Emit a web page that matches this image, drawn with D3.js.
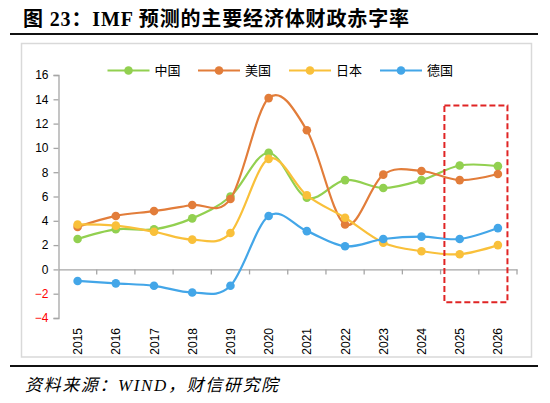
<!DOCTYPE html>
<html>
<head>
<meta charset="utf-8">
<script src="https://cdn.jsdelivr.net/npm/d3@7.9.0/dist/d3.min.js"></script>
<style>
  body { margin: 0; background: #fff; }
  svg { display: block; }
</style>
</head>
<body>
<svg id="chart" width="550" height="403"></svg>
<script>
// Data (IMF fiscal deficit, % of GDP)
const years = ['2015', '2016', '2017', '2018', '2019', '2020', '2021', '2022', '2023', '2024', '2025', '2026'];
const china   = [2.5, 3.3, 3.3, 4.2, 6.0, 9.6, 5.9, 7.35, 6.7, 7.35, 8.55, 8.5];
const usa     = [3.5, 4.4, 4.8, 5.3, 5.8, 14.1, 11.45, 3.7, 7.8, 8.1, 7.35, 7.85];
const japan   = [3.7, 3.6, 3.1, 2.45, 3.0, 9.1, 6.1, 4.25, 2.2, 1.5, 1.25, 2.0];
const germany = [-0.95, -1.15, -1.35, -1.9, -1.35, 4.4, 3.15, 1.9, 2.5, 2.7, 2.5, 3.4];
const yTicks  = [-4, -2, 0, 2, 4, 6, 8, 10, 12, 14, 16];

const series = [
  { name: '中国', values: china,   color: '#92d050' },
  { name: '美国', values: usa,     color: '#e27d3a' },
  { name: '日本', values: japan,   color: '#f9c03a' },
  { name: '德国', values: germany, color: '#43a6e8' }
];

const svg = d3.select('#chart');
const serif = '"Liberation Serif", "Times New Roman", "Noto Sans CJK SC", serif';
const sans = '"Liberation Sans", Arial, "Noto Sans CJK SC", sans-serif';

// Title + rules
svg.append('text')
  .attr('x', 23).attr('y', 26)
  .attr('font-family', serif)
  .attr('font-weight', 'bold')
  .attr('font-size', 20)
  .attr('fill', '#000')
  .attr('textLength', 386)
  .attr('lengthAdjust', 'spacing')
  .text('图 23：IMF 预测的主要经济体财政赤字率');

svg.append('line')
  .attr('x1', 10).attr('x2', 538).attr('y1', 34).attr('y2', 34)
  .attr('stroke', '#111').attr('stroke-width', 2);

// chart frame
svg.append('rect')
  .attr('x', 21.5).attr('y', 43.5).attr('width', 510).attr('height', 313.5)
  .attr('fill', '#fff').attr('stroke', '#d9d9d9').attr('stroke-width', 1.5);

svg.append('line')
  .attr('x1', 10).attr('x2', 538).attr('y1', 366).attr('y2', 366)
  .attr('stroke', '#111').attr('stroke-width', 2);

svg.append('text')
  .attr('x', 25).attr('y', 391)
  .attr('font-family', serif)
  .attr('font-style', 'italic')
  .attr('font-size', 17)
  .attr('fill', '#000')
  .attr('textLength', 253)
  .attr('lengthAdjust', 'spacing')
  .text('资料来源：WIND，财信研究院');

// Scales
const x = d3.scaleBand().domain(years).range([58.5, 517]);
const cx = (d) => x(d) + x.bandwidth() / 2;
const y = d3.scaleLinear().domain([-4, 16]).range([318, 75]);

// Y axis
const yAxis = svg.append('g')
  .attr('transform', 'translate(58.5,0)')
  .call(d3.axisLeft(y).tickValues(yTicks).tickSize(5).tickPadding(5));
yAxis.select('.domain').attr('stroke', '#a6a6a6').attr('stroke-width', 1.3);
yAxis.selectAll('.tick line').attr('stroke', '#a6a6a6').attr('stroke-width', 1.3);
yAxis.selectAll('.tick text')
  .attr('font-family', sans)
  .attr('font-size', 12)
  .attr('fill', (d) => d < 0 ? '#ff0000' : '#000');

// X axis at zero
const xAxis = svg.append('g')
  .attr('transform', `translate(0,${y(0)})`)
  .call(d3.axisBottom(x).tickSize(0).tickSizeOuter(0).tickFormat(''));
xAxis.select('.domain').attr('stroke', '#a6a6a6').attr('stroke-width', 1.3);
xAxis.selectAll('.tick').remove();

// tick marks at band boundaries
svg.append('g')
  .selectAll('line')
  .data(years.slice(1).concat(['end']))
  .join('line')
  .attr('x1', (d, i) => i < years.length - 1 ? x(d) : x.range()[1])
  .attr('x2', (d, i) => i < years.length - 1 ? x(d) : x.range()[1])
  .attr('y1', y(0)).attr('y2', y(0) + 5)
  .attr('stroke', '#a6a6a6').attr('stroke-width', 1.3);

// rotated year labels below plot
svg.append('g')
  .selectAll('text')
  .data(years)
  .join('text')
  .attr('transform', (d) => `translate(${cx(d) + 4.5},328) rotate(-90)`)
  .attr('text-anchor', 'end')
  .attr('font-family', sans)
  .attr('font-size', 12)
  .attr('fill', '#000')
  .text((d) => d);

// Lines
const line = d3.line()
  .x((d, i) => cx(years[i]))
  .y((d) => y(d))
  .curve(d3.curveCatmullRom.alpha(0));

series.forEach((s) => {
  svg.append('path')
    .datum(s.values)
    .attr('d', line)
    .attr('fill', 'none')
    .attr('stroke', s.color)
    .attr('stroke-width', 2.2);

  svg.append('g')
    .selectAll('circle')
    .data(s.values)
    .join('circle')
    .attr('cx', (d, i) => cx(years[i]))
    .attr('cy', (d) => y(d))
    .attr('r', 4.3)
    .attr('fill', s.color);
});

// Red dashed box around forecast years
const boxL = cx('2025') - x.step() * 0.4;
const boxR = cx('2026') + x.step() * 0.25;
svg.append('rect')
  .attr('x', boxL).attr('y', y(13.5))
  .attr('width', boxR - boxL).attr('height', y(-2.7) - y(13.5))
  .attr('fill', 'none')
  .attr('stroke', '#e02424')
  .attr('stroke-width', 2)
  .attr('stroke-dasharray', '6,3');

// Legend
const legendX = [107.5, 198, 289, 380];
const legend = svg.append('g')
  .selectAll('g')
  .data(series)
  .join('g')
  .attr('transform', (d, i) => `translate(${legendX[i]},70.5)`);
legend.append('line')
  .attr('x1', 0).attr('x2', 42)
  .attr('stroke', (d) => d.color).attr('stroke-width', 2.2);
legend.append('circle')
  .attr('cx', 21).attr('r', 4.3)
  .attr('fill', (d) => d.color);
legend.append('text')
  .attr('x', 47).attr('y', 4.5)
  .attr('font-family', sans)
  .attr('font-size', 13)
  .attr('fill', '#000')
  .text((d) => d.name);
</script>
</body>
</html>
